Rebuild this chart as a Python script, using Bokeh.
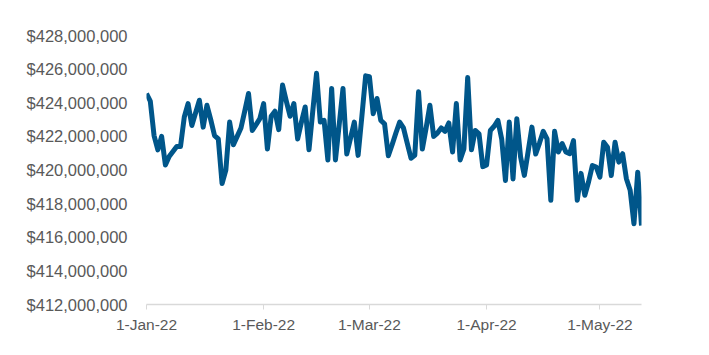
import pandas as pd
from bokeh.plotting import figure
from bokeh.models import FixedTicker, NumeralTickFormatter, Range1d, ColumnDataSource
from bokeh.embed import file_html
from bokeh.resources import INLINE

start_date = "2022-01-01"
values_musd = [
    424.55, 424.1, 422.05, 421.2, 422.0, 420.3, 420.8, 421.1, 421.4, 421.4,
    423.15, 423.95, 422.65, 423.4, 424.15, 422.55, 423.85, 423.0, 422.05, 421.85,
    419.2, 420.0, 422.85, 421.5, 422.0, 422.5, 423.5, 424.55, 422.35, 422.7,
    423.05, 423.95, 421.25, 423.2, 423.5, 422.4, 425.05, 424.1, 423.2, 423.95,
    421.85, 422.85, 423.75, 421.2, 423.5, 425.75, 422.85, 422.95, 420.6, 424.85,
    420.6, 422.7, 424.85, 420.95, 421.9, 422.85, 420.87, 423.2, 425.6, 425.55,
    423.35, 424.25, 422.95, 422.75, 420.85, 421.5, 422.2, 422.85, 422.5, 421.6,
    420.7, 420.87, 424.65, 421.25, 422.5, 423.85, 422.0, 422.2, 422.5, 422.3,
    422.8, 421.07, 423.95, 420.6, 421.25, 425.5, 421.2, 422.35, 422.15, 420.2,
    420.3, 422.35, 422.6, 422.95, 421.85, 419.38, 422.85, 419.47, 423.05, 420.77,
    419.68, 421.1, 422.55, 420.95, 421.6, 422.3, 421.85, 418.2, 422.3, 421.07,
    421.57, 421.07, 420.97, 421.75, 418.2, 419.8, 418.5, 419.3, 420.27, 420.18,
    419.58, 421.65, 421.35, 419.67, 421.65, 420.47, 420.97, 419.48, 418.8, 416.8,
    419.87, 416.7,
]
tick_dates = ["2022-01-01", "2022-02-01", "2022-03-01", "2022-04-01", "2022-05-01"]
tick_labels = ["1-Jan-22", "1-Feb-22", "1-Mar-22", "1-Apr-22", "1-May-22"]
y_ticks = [412e6, 414e6, 416e6, 418e6, 420e6, 422e6, 424e6, 426e6, 428e6]

dates = pd.date_range(start_date, periods=len(values_musd), freq="D")
vals = [v * 1e6 for v in values_musd]
src = ColumnDataSource(dict(x=dates, y=vals))

def ms(d):
    return pd.Timestamp(d).value / 1e6

p = figure(width=709, height=355, output_backend="svg", toolbar_location=None,
           x_axis_type="datetime",
           x_range=Range1d(ms(start_date), ms(dates[-1])),
           y_range=Range1d(412e6, 428e6),
           min_border_left=146, min_border_right=68, min_border_top=35, min_border_bottom=51)
p.line("x", "y", source=src, line_color="#00568A", line_width=5, line_join="round")

p.outline_line_color = None
p.xgrid.grid_line_color = None
p.ygrid.grid_line_color = None
p.background_fill_color = "white"
p.border_fill_color = "white"

xt = [ms(d) for d in tick_dates]
p.xaxis.ticker = FixedTicker(ticks=xt)
p.xaxis.major_label_overrides = {t: l for t, l in zip(xt, tick_labels)}
p.xaxis.axis_line_color = "#D9D9D9"
p.xaxis.axis_line_width = 1.5
p.xaxis.major_tick_line_color = "#D9D9D9"
p.xaxis.major_tick_out = 5
p.xaxis.major_tick_in = 0
p.xaxis.minor_tick_line_color = None
p.xaxis.major_label_standoff = 6
p.xaxis.major_label_text_font = "Liberation Sans"
p.xaxis.major_label_text_font_size = "15.5px"
p.xaxis.major_label_text_color = "#595959"

p.yaxis.ticker = FixedTicker(ticks=y_ticks)
p.yaxis.formatter = NumeralTickFormatter(format="$0,0")
p.yaxis.axis_line_color = None
p.yaxis.major_tick_line_color = None
p.yaxis.minor_tick_line_color = None
p.yaxis.major_tick_out = 0
p.yaxis.major_tick_in = 0
p.yaxis.major_label_standoff = 19
p.yaxis.major_label_text_font = "Liberation Sans"
p.yaxis.major_label_text_font_size = "16.5px"
p.yaxis.major_label_text_color = "#595959"

open("out.html", "w").write(file_html(p, INLINE))
